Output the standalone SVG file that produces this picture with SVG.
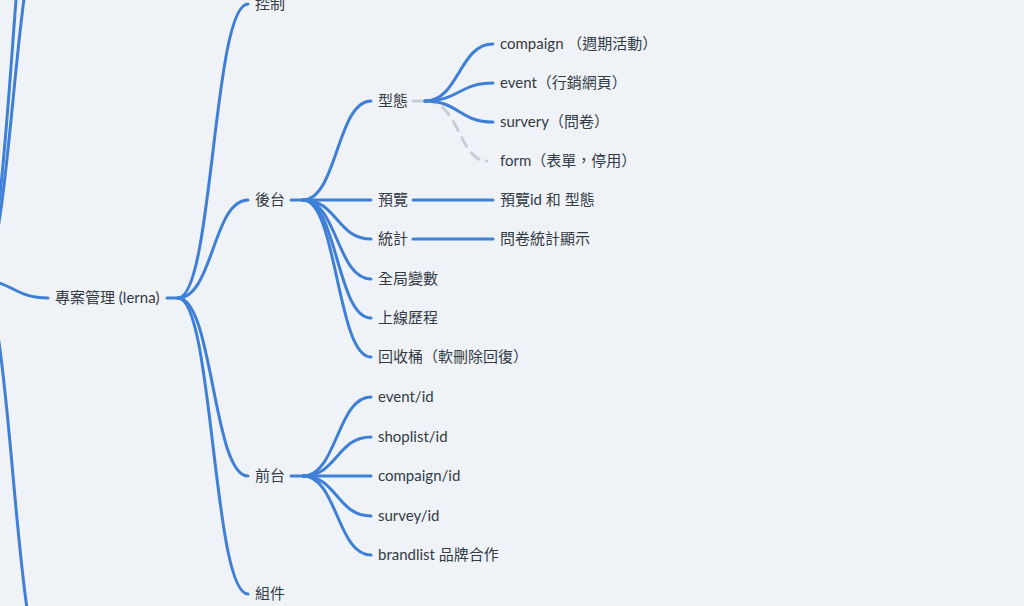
<svg xmlns="http://www.w3.org/2000/svg" width="1024" height="606" viewBox="0 0 1024 606">
<style>
  .bg { fill: #eff3f8; }
  .link { fill: none; stroke: #3f80d6; stroke-width: 3; stroke-linecap: round; }
  .muted { fill: none; stroke: #c6ced8; stroke-width: 3; stroke-linecap: round; }
  .dashed { stroke-dasharray: 10 8; }
  text { font-family: "Lato", "Noto Sans CJK TC", "Noto Sans CJK SC", sans-serif; font-size: 15px; fill: #333b45; }
</style>
<rect class="bg" x="0" y="0" width="1024" height="606"/>
<g id="connectors">
  <path class="link" d="M -22 280 C 13 280, 13 -200, 48 -200"/>
  <path class="link" d="M -22 280 C 13 280, 13 -80, 48 -80"/>
  <path class="link" d="M -22 280 C 13 280, 13 298, 48 298"/>
  <path class="link" d="M -22 280 C 13 280, 13 671, 48 671"/>
  <path class="link" d="M 167 298 L 178 298"/>
  <path class="link" d="M 178 298 C 213 298, 213 4, 248 4"/>
  <path class="link" d="M 178 298 C 213 298, 213 200, 248 200"/>
  <path class="link" d="M 178 298 C 213 298, 213 476, 248 476"/>
  <path class="link" d="M 178 298 C 213 298, 213 594, 248 594"/>
  <path class="link" d="M 291 200 L 303 200"/>
  <path class="link" d="M 303 200 C 337 200, 337 101, 371 101"/>
  <path class="link" d="M 303 200 L 371 200"/>
  <path class="link" d="M 303 200 C 337 200, 337 239, 371 239"/>
  <path class="link" d="M 303 200 C 337 200, 337 279, 371 279"/>
  <path class="link" d="M 303 200 C 337 200, 337 318, 371 318"/>
  <path class="link" d="M 303 200 C 337 200, 337 357, 371 357"/>
  <path class="link" d="M 291 476 L 303 476"/>
  <path class="link" d="M 303 476 C 337 476, 337 397, 371 397"/>
  <path class="link" d="M 303 476 C 337 476, 337 437, 371 437"/>
  <path class="link" d="M 303 476 L 371 476"/>
  <path class="link" d="M 303 476 C 337 476, 337 516, 371 516"/>
  <path class="link" d="M 303 476 C 337 476, 337 555, 371 555"/>
  <path class="muted" d="M 413 101 L 426 101"/>
  <path class="muted dashed" d="M 426 101 C 459 101, 459 161, 487 161"/>
  <path class="link" d="M 425 101 C 459 101, 459 44, 493 44"/>
  <path class="link" d="M 425 101 C 459 101, 459 83, 493 83"/>
  <path class="link" d="M 425 101 C 459 101, 459 122, 493 122"/>
  <path class="link" d="M 413 200 L 493 200"/>
  <path class="link" d="M 413 239 L 493 239"/>
</g>
<g id="n-root"><text x="55" y="303">專案管理 (lerna)</text></g>
<g id="n-control"><text x="255" y="9">控制</text></g>
<g id="n-backend"><text x="255" y="205">後台</text></g>
<g id="n-frontend"><text x="255" y="481">前台</text></g>
<g id="n-components"><text x="255" y="599">組件</text></g>
<g id="n-type"><text x="378" y="106">型態</text></g>
<g id="n-preview"><text x="378" y="205">預覽</text></g>
<g id="n-stats"><text x="378" y="244">統計</text></g>
<g id="n-globals"><text x="378" y="284">全局變數</text></g>
<g id="n-history"><text x="378" y="323">上線歷程</text></g>
<g id="n-trash"><text x="378" y="362">回收桶（軟刪除回復）</text></g>
<g id="n-event-id"><text x="378" y="402">event/id</text></g>
<g id="n-shoplist-id"><text x="378" y="442">shoplist/id</text></g>
<g id="n-compaign-id"><text x="378" y="481">compaign/id</text></g>
<g id="n-survey-id"><text x="378" y="521">survey/id</text></g>
<g id="n-brandlist"><text x="378" y="560">brandlist 品牌合作</text></g>
<g id="n-compaign"><text x="500" y="49">compaign （週期活動）</text></g>
<g id="n-event"><text x="500" y="88">event（行銷網頁）</text></g>
<g id="n-survery"><text x="500" y="127">survery（問卷）</text></g>
<g id="n-form"><text x="500" y="166">form（表單，停用）</text></g>
<g id="n-preview-id"><text x="500" y="205">預覽id 和 型態</text></g>
<g id="n-stats-show"><text x="500" y="244">問卷統計顯示</text></g>
</svg>
